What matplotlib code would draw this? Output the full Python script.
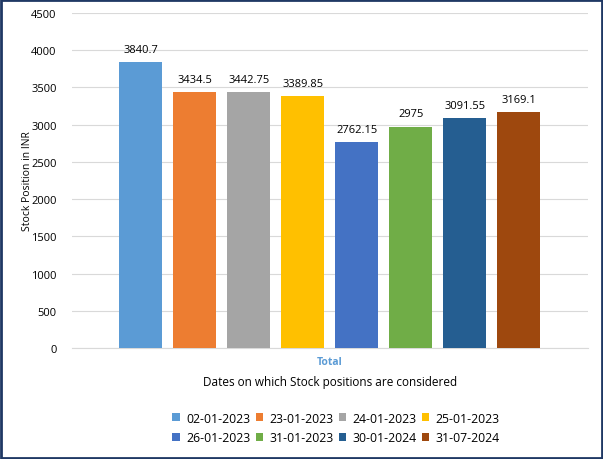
import matplotlib
matplotlib.use("Agg")
import matplotlib.pyplot as plt
from matplotlib.patches import Rectangle, Patch

dates = ["02-01-2023", "23-01-2023", "24-01-2023", "25-01-2023",
         "26-01-2023", "31-01-2023", "30-01-2024", "31-07-2024"]
values = [3840.7, 3434.5, 3442.75, 3389.85, 2762.15, 2975, 3091.55, 3169.1]
labels = ["3840.7", "3434.5", "3442.75", "3389.85", "2762.15", "2975", "3091.55", "3169.1"]
colors = ["#5B9BD5", "#ED7D31", "#A5A5A5", "#FFC000",
          "#4472C4", "#70AD47", "#255E91", "#9E480E"]
yticks = [0, 500, 1000, 1500, 2000, 2500, 3000, 3500, 4000, 4500]

plt.rcParams['font.family'] = ['Open Sans', 'DejaVu Sans']

fig = plt.figure(figsize=(6.03, 4.6), dpi=100)
ax = fig.add_axes([72/603, 1-349/460, (588-72)/603, (349-14)/460])

x = list(range(len(values)))
ax.bar(x, values, width=0.8, color=colors, zorder=3)
for xi, v, lab in zip(x, values, labels):
    ax.text(xi, v + 95, lab, ha='center', va='bottom', fontsize=8, color='#000000')

ax.set_ylim(0, 4500)
ax.set_xlim(-1.27, 8.28)
ax.set_yticks(yticks)
ax.set_yticklabels([str(t) for t in yticks], fontsize=8)
ax.set_xticks([])
ax.grid(axis='y', color='#D9D9D9', linewidth=0.8, zorder=0)
for s in ['top', 'right', 'left']:
    ax.spines[s].set_visible(False)
ax.spines['bottom'].set_color('#D9D9D9')
ax.tick_params(axis='y', length=0, pad=11)

ax.set_ylabel("Stock Position in INR", fontsize=7.5)
ax.yaxis.set_label_coords(-0.075, 0.5)

fig.text(330/603, 1-363/460, "Total", ha='center', va='center', fontsize=7.5,
         fontweight='bold', color='#5B9BD5')
fig.text(330/603, 1-383/460, "Dates on which Stock positions are considered",
         ha='center', va='center', fontsize=8.5)

# row-major ordering for a 4-column legend
order = [0, 4, 1, 5, 2, 6, 3, 7]
handles = [Patch(facecolor=colors[i], edgecolor='none') for i in order]
leg_labels = [dates[i] for i in order]
fig.legend(handles, leg_labels, loc='center', bbox_to_anchor=(336/603, 1-429/460),
           ncol=4, frameon=False, fontsize=8.8, handlelength=0.6, handleheight=0.6,
           handletextpad=0.5, columnspacing=0.45, labelspacing=0.55)

fig.patches.append(Rectangle((0.002, 0.002), 0.996, 0.996, transform=fig.transFigure,
                             fill=False, edgecolor='#1F3864', linewidth=2))

fig.savefig("out.png", dpi=100)
